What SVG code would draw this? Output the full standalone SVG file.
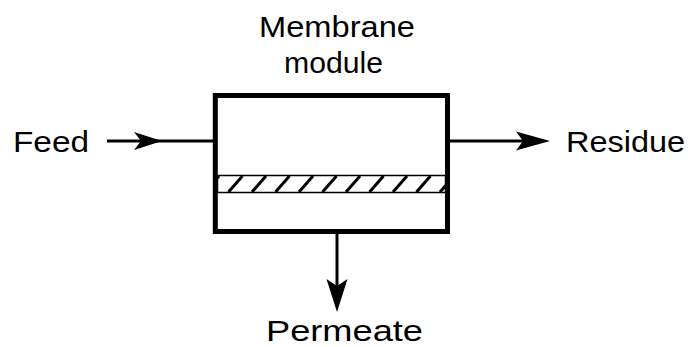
<svg xmlns="http://www.w3.org/2000/svg" width="688" height="347" viewBox="0 0 688 347">
<defs>
<style>
.t{font-family:"Liberation Sans",Arial,sans-serif;font-size:29px;fill:#000}
.ln{stroke:#000;stroke-width:2.8;fill:none}
.ah{fill:#000}
.h{stroke:#000;stroke-width:3}
</style>
<clipPath id="band"><rect x="217" y="176" width="228" height="16"/></clipPath>
</defs>
<g id="title"><text class="t" x="259" y="37" textLength="156" lengthAdjust="spacingAndGlyphs">Membrane</text>
<text class="t" x="284" y="73" textLength="99" lengthAdjust="spacingAndGlyphs">module</text></g>
<g id="feed"><text class="t" x="13" y="152" textLength="76" lengthAdjust="spacingAndGlyphs">Feed</text></g>
<g id="residue"><text class="t" x="566" y="152" textLength="119" lengthAdjust="spacingAndGlyphs">Residue</text></g>
<g id="permeate"><text class="t" x="266" y="341" textLength="157" lengthAdjust="spacingAndGlyphs">Permeate</text></g>
<g id="module">
<rect x="215.3" y="95.5" width="232.2" height="136" fill="#fff" stroke="#000" stroke-width="5"/>
<rect x="217.5" y="175.5" width="228" height="17" fill="#fff" stroke="#000" stroke-width="1.5"/>
<g clip-path="url(#band)" class="h">
<line x1="205" y1="192" x2="219" y2="176"/>
<line x1="228.5" y1="192" x2="242.5" y2="176"/>
<line x1="252" y1="192" x2="266" y2="176"/>
<line x1="275.5" y1="192" x2="289.5" y2="176"/>
<line x1="299" y1="192" x2="313" y2="176"/>
<line x1="322.5" y1="192" x2="336.5" y2="176"/>
<line x1="346" y1="192" x2="360" y2="176"/>
<line x1="369.5" y1="192" x2="383.5" y2="176"/>
<line x1="393" y1="192" x2="407" y2="176"/>
<line x1="416.5" y1="192" x2="430.5" y2="176"/>
<line x1="440" y1="192" x2="454" y2="176"/>
</g>
</g>
<g id="connectors">
<line class="ln" x1="107" y1="141" x2="214" y2="141"/>
<polygon class="ah" points="162,141 134,132 141,141 134,150"/>
<line class="ln" x1="449" y1="141" x2="525" y2="141"/>
<polygon class="ah" points="550,141 516,131.5 523,141 516,150.5"/>
<line class="ln" x1="337" y1="233" x2="337" y2="290" style="stroke-width:3"/>
<polygon class="ah" points="337,312 326.5,279 337,286 347.5,279"/>
</g>
</svg>
